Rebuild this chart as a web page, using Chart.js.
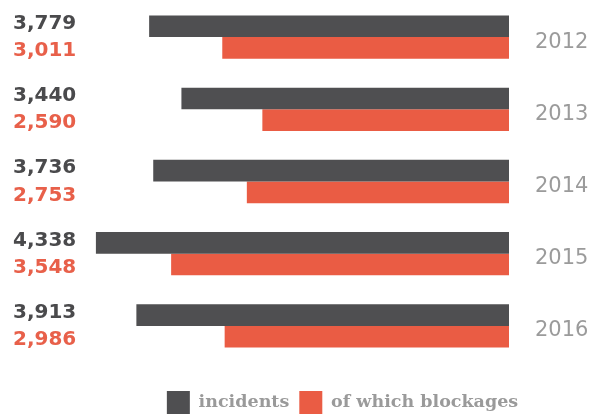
<!DOCTYPE html>
<html>
<head>
<meta charset="utf-8">
<script src="https://cdn.jsdelivr.net/npm/chart.js@4"></script>
<style>
  html, body { margin: 0; padding: 0; background: #fff; }
  #wrap { width: 598px; height: 414px; }
</style>
</head>
<body>
<div id="wrap"><canvas id="incidents-canvas"></canvas></div>
<script>
const years = ['2012', '2013', '2014', '2015', '2016'];
const incidents = [3779, 3440, 3736, 4338, 3913];
const blockages = [3011, 2590, 2753, 3548, 2986];

const darkGrey = '#4f4f51';
const red = '#ea5c44';

const fmt = n => n.toLocaleString('en-US');

// value figures on the left, lined up with each bar
const valueLabels = {
  id: 'valueLabels',
  afterDatasetsDraw(chart) {
    const ctx = chart.ctx;
    ctx.save();
    ctx.font = 'bold 20px "DejaVu Sans"';
    ctx.textAlign = 'left';
    ctx.textBaseline = 'middle';
    const metaA = chart.getDatasetMeta(0);
    const metaB = chart.getDatasetMeta(1);
    years.forEach((y, i) => {
      ctx.fillStyle = '#4a4a4c';
      ctx.fillText(fmt(incidents[i]), 13, metaA.data[i].y - 2.5);
      ctx.fillStyle = '#e8604a';
      ctx.fillText(fmt(blockages[i]), 13, metaB.data[i].y + 3);
    });
    ctx.restore();
  }
};

const ctx = document.getElementById('incidents-canvas').getContext('2d');
const chart = new Chart(ctx, {
  type: 'bar',
  data: {
    labels: years,
    datasets: [
      { label: 'incidents', data: incidents, backgroundColor: darkGrey },
      { label: 'of which blockages', data: blockages, backgroundColor: red }
    ]
  },
  options: {
    indexAxis: 'y',
    responsive: true,
    maintainAspectRatio: false,
    animation: false,
    datasets: {
      bar: { barPercentage: 1, categoryPercentage: 0.6 }
    },
    layout: { padding: { top: 1, left: 90, right: 3, bottom: -10 } },
    scales: {
      x: {
        reverse: true,
        min: 0,
        max: 4400,
        grid: { display: false, drawTicks: false },
        border: { display: false },
        ticks: { display: false },
        afterFit: s => { s.height = 19; }
      },
      y: {
        position: 'right',
        grid: { display: false, drawTicks: false },
        border: { display: false },
        ticks: {
          color: '#9b9b9b',
          font: { family: 'DejaVu Sans', size: 21 },
          padding: 26,
          labelOffset: 5
        },
        afterFit: s => {
          s.width = 86;
          s.paddingTop = 0;
          s.paddingBottom = 0;
        }
      }
    },
    plugins: {
      legend: {
        position: 'bottom',
        labels: {
          boxWidth: 23,
          boxHeight: 23,
          padding: 10,
          color: '#9a9a9a',
          font: { family: 'DejaVu Serif', size: 17.5, weight: 'bold' }
        }
      },
      tooltip: { enabled: false }
    }
  },
  plugins: [valueLabels]
});
</script>
</body>
</html>
